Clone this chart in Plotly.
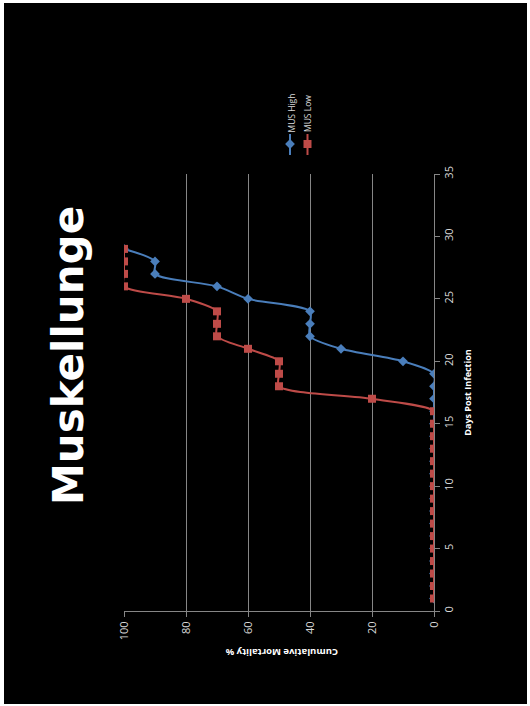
import plotly.graph_objects as go

# ---- data ----
days = list(range(1, 30))
mus_high = [0, 0, 0, 0, 0, 0, 0, 0, 0, 0, 0, 0, 0, 0, 0, 0, 0, 0, 0,
            10, 30, 40, 40, 40, 60, 70, 90, 90, 100]
mus_low = [0, 0, 0, 0, 0, 0, 0, 0, 0, 0, 0, 0, 0, 0, 0, 0,
           20, 50, 50, 50, 60, 70, 70, 70, 80, 100, 100, 100, 100]
x_ticks = [0, 20, 40, 60, 80, 100]
y_ticks = [0, 5, 10, 15, 20, 25, 30, 35]
series_names = ["MUS High", "MUS Low"]

BLUE = "#4A7EBB"
RED = "#BE4B48"
GRID = "#868686"
TICKC = "#D9D9D9"

W, H = 530, 706
# plot area in pixels
PL, PR, PT, PB = 124, 434, 174, 611

fig = go.Figure()

fig.add_trace(go.Scatter(
    x=mus_high, y=days, mode="lines+markers", name=series_names[0],
    line=dict(color=BLUE, width=2, shape="spline", smoothing=0.8),
    marker=dict(symbol="diamond", size=7.5, color=BLUE),
    xaxis="x", yaxis="y", showlegend=False))
fig.add_trace(go.Scatter(
    x=mus_low, y=days, mode="lines+markers", name=series_names[1],
    line=dict(color=RED, width=2, shape="spline", smoothing=0.8),
    marker=dict(symbol="square", size=8, color=RED),
    xaxis="x", yaxis="y", showlegend=False))

# legend symbols drawn on a full-figure overlay axis (pixel coordinates)
leg_x = [290, 307.5]
for lx, col, sym, sz in [(leg_x[0], BLUE, "diamond", 7.5), (leg_x[1], RED, "square", 8)]:
    fig.add_trace(go.Scatter(x=[lx, lx], y=[134, 155], mode="lines",
                             line=dict(color=col, width=2), xaxis="x2", yaxis="y2",
                             showlegend=False, hoverinfo="skip"))
    fig.add_trace(go.Scatter(x=[lx], y=[144], mode="markers",
                             marker=dict(symbol=sym, size=sz, color=col),
                             xaxis="x2", yaxis="y2", showlegend=False, hoverinfo="skip"))

tickfont = dict(family="Open Sans", size=11, color=TICKC)

fig.update_layout(
    template="none",
    width=W, height=H,
    margin=dict(l=0, r=0, t=0, b=0, pad=0, autoexpand=False),
    paper_bgcolor="white",
    plot_bgcolor="rgba(0,0,0,0)",
    showlegend=False,
    hovermode=False,
    xaxis=dict(
        domain=[PL / W, PR / W], range=[100, 0], automargin=False,
        tickvals=x_ticks, ticktext=[str(v) for v in x_ticks],
        showgrid=True, gridcolor=GRID, gridwidth=1,
        showline=True, linecolor=GRID, linewidth=1,
        ticks="outside", ticklen=5, tickcolor=GRID,
        tickangle=-90, tickfont=tickfont, zeroline=False, anchor="y"),
    yaxis=dict(
        domain=[(H - PB) / H, (H - PT) / H], range=[0, 35], automargin=False,
        tickvals=y_ticks, side="right",
        showgrid=False, showline=True, linecolor=GRID, linewidth=1,
        ticks="outside", ticklen=5, tickcolor=GRID,
        tickangle=-90, tickfont=tickfont, zeroline=False, anchor="x"),
    xaxis2=dict(domain=[0, 1], range=[0, W], visible=False, anchor="y2", automargin=False),
    yaxis2=dict(domain=[0, 1], range=[H, 0], visible=False, anchor="x2", automargin=False),
)

# black slide background with thin white border
fig.add_shape(type="rect", xref="paper", yref="paper",
              x0=4 / W, x1=527 / W, y0=1 - 704 / H, y1=1 - 3 / H,
              fillcolor="black", line=dict(width=0), layer="below")

def px(x):
    return x / W

def py(y):
    return 1 - y / H

def note(text, x, y, angle, font):
    fig.add_annotation(text=text, x=px(x), y=py(y), xref="paper", yref="paper",
                       xanchor="center", yanchor="middle",
                       textangle=angle, showarrow=False, font=font)

note("Muskellunge", 68, 356, -90,
     dict(family="DejaVu Sans", size=42, color="white", weight="bold"))
note("Days Post Infection", 466.7, 392, -90,
     dict(family="Open Sans", size=9, color="white", weight="bold"))
note("Cumulative Mortality %", 281.5, 653, 180,
     dict(family="Open Sans", size=9.5, color="white", weight="bold"))
note(series_names[0], 290.5, 113, -90, dict(family="Open Sans", size=8.5, color=TICKC))
note(series_names[1], 308, 114, -90, dict(family="Open Sans", size=8.5, color=TICKC))

fig.write_html("out.html", config={"displayModeBar": False, "staticPlot": True},
               post_script="document.body.style.margin='0';")
